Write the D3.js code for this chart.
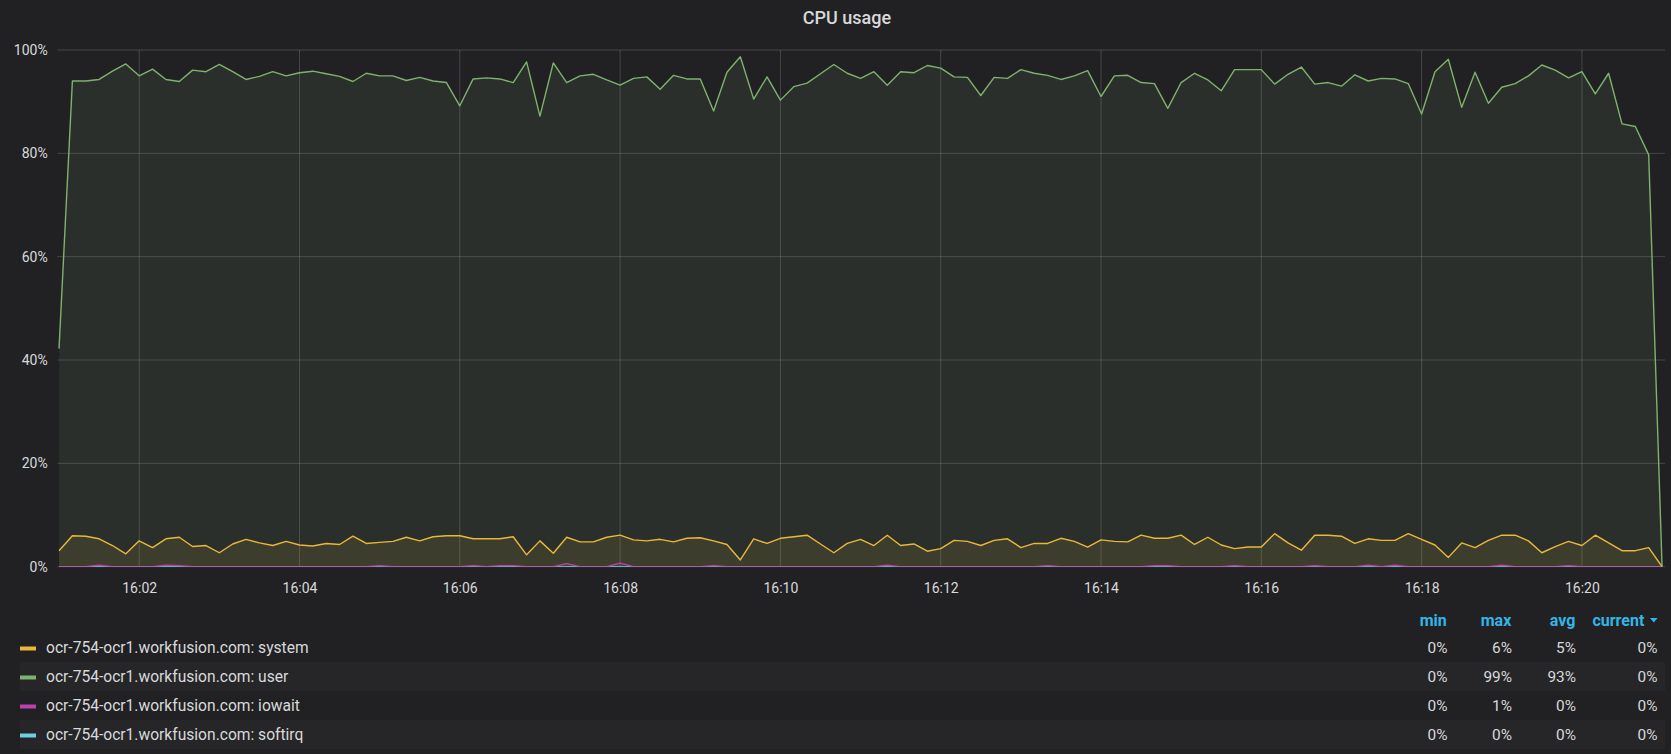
<!DOCTYPE html>
<html>
<head>
<meta charset="utf-8">
<script src="https://cdn.jsdelivr.net/npm/d3@7"></script>
<style>
  body { margin: 0; background: #212124; }
  svg text { font-family: Roboto, "Noto Sans", sans-serif; }
</style>
</head>
<body>
<svg id="chart" width="1671" height="754"></svg>
<script>
// 10s samples, 16:01:00 -> 16:21:00
var chartTitle = "CPU usage"
var hostName = "ocr-754-ocr1.workfusion.com"
var seriesNames = ["system", "user", "iowait", "softirq"]
var seriesColors = ["#EAB839", "#7EB26D", "#BA43A9", "#6ED0E0"]
var statNames = ["min", "max", "avg", "current"]
var yTicks = [0, 20, 40, 60, 80, 100]

var systemVals = [3.1, 6.0, 5.9, 5.4, 4.1, 2.5, 5.0, 3.7, 5.4, 5.7,
    3.9, 4.1, 2.7, 4.4, 5.3, 4.6, 4.1, 4.9, 4.2, 4.0,
    4.5, 4.3, 5.9, 4.5, 4.7, 4.9, 5.7, 5.0, 5.8, 6.0,
    6.0, 5.4, 5.4, 5.4, 5.8, 2.3, 5.0, 2.6, 5.7, 4.8,
    4.8, 5.7, 6.1, 5.2, 5.0, 5.3, 4.8, 5.5, 5.6, 5.0,
    4.3, 1.3, 5.4, 4.5, 5.5, 5.8, 6.1, 4.4, 2.7, 4.5,
    5.3, 4.1, 6.1, 4.1, 4.4, 3.0, 3.5, 5.1, 4.9, 4.1,
    5.1, 5.4, 3.7, 4.5, 4.5, 5.5, 4.9, 3.8, 5.2, 4.9,
    4.8, 6.1, 5.5, 5.5, 6.1, 4.3, 5.7, 4.2, 3.5, 3.8,
    3.8, 6.4, 4.6, 3.2, 6.1, 6.1, 5.9, 4.5, 5.4, 5.1,
    5.1, 6.4, 5.3, 4.2, 1.8, 4.6, 3.7, 5.1, 6.1, 6.1,
    5.0, 2.7, 3.9, 4.9, 4.1, 6.1, 4.6, 3.1, 3.1, 3.7,
    0]

var userVals = [42.2, 94.0, 94.0, 94.3, 95.9, 97.3, 95.0, 96.3, 94.3, 93.9,
    96.1, 95.8, 97.2, 95.8, 94.3, 94.9, 95.8, 95.0, 95.6, 95.9,
    95.4, 94.9, 93.9, 95.5, 95.0, 95.0, 94.1, 94.7, 94.0, 93.7,
    89.2, 94.4, 94.6, 94.4, 93.7, 97.7, 87.2, 97.5, 93.7, 95.0,
    95.3, 94.2, 93.2, 94.5, 94.8, 92.4, 95.1, 94.4, 94.4, 88.2,
    95.7, 98.7, 90.5, 94.8, 90.3, 92.9, 93.6, 95.4, 97.2, 95.5,
    94.5, 95.8, 93.2, 95.8, 95.6, 97.0, 96.5, 94.8, 94.7, 91.2,
    94.7, 94.5, 96.2, 95.5, 95.1, 94.3, 95.0, 96.0, 91.0, 95.0,
    95.1, 93.7, 93.5, 88.7, 93.7, 95.5, 94.2, 92.1, 96.2, 96.2,
    96.2, 93.4, 95.3, 96.7, 93.4, 93.7, 93.0, 95.2, 94.0, 94.5,
    94.4, 93.5, 87.6, 95.8, 98.2, 88.9, 95.7, 89.7, 92.8, 93.5,
    95.0, 97.1, 96.1, 94.6, 95.8, 91.5, 95.5, 85.7, 85.2, 79.7,
    0]

var iowaitVals = [0, 0, 0, 0.3, 0, 0, 0, 0, 0.3, 0.2,
    0, 0, 0, 0, 0, 0, 0, 0, 0, 0,
    0, 0, 0, 0, 0.2, 0, 0, 0, 0, 0,
    0, 0.2, 0, 0.2, 0.2, 0, 0, 0, 0.6, 0,
    0, 0, 0.7, 0, 0, 0, 0, 0, 0, 0.2,
    0, 0, 0, 0, 0, 0, 0, 0, 0, 0,
    0, 0, 0.3, 0, 0, 0, 0, 0, 0, 0,
    0, 0, 0, 0, 0.2, 0, 0, 0, 0, 0,
    0, 0, 0.2, 0.2, 0, 0, 0, 0, 0.2, 0,
    0, 0, 0, 0, 0.2, 0, 0, 0, 0.3, 0,
    0.3, 0, 0, 0, 0, 0, 0, 0, 0.3, 0,
    0, 0, 0, 0.2, 0, 0, 0, 0, 0, 0,
    0]

var softirqVals = [0, 0, 0, 0, 0, 0, 0, 0, 0, 0,
    0, 0, 0, 0, 0, 0, 0, 0, 0, 0,
    0, 0, 0, 0, 0, 0, 0, 0, 0, 0,
    0, 0, 0, 0, 0, 0, 0, 0, 0, 0,
    0, 0, 0, 0, 0, 0, 0, 0, 0, 0,
    0, 0, 0, 0, 0, 0, 0, 0, 0, 0,
    0, 0, 0, 0, 0, 0, 0, 0, 0, 0,
    0, 0, 0, 0, 0, 0, 0, 0, 0, 0,
    0, 0, 0, 0, 0, 0, 0, 0, 0, 0,
    0, 0, 0, 0, 0, 0, 0, 0, 0, 0,
    0, 0, 0, 0, 0, 0, 0, 0, 0, 0,
    0, 0, 0, 0, 0, 0, 0, 0, 0, 0,
    0]

var startTime = new Date(2019, 0, 1, 16, 1, 0)
var times = systemVals.map((v, i) => new Date(startTime.getTime() + i * 10000))

var allSeries = [systemVals, userVals, iowaitVals, softirqVals].map((vals, k) => ({
    name: hostName + ": " + seriesNames[k],
    color: seriesColors[k],
    values: vals.map((v, i) => ({t: times[i], v: v}))
}))

var W = 1671, H = 754
var plot = {left: 57.3, right: 1665, top: 50, bottom: 566.7}
var textColor = "#d8d9da"
var gridColor = "rgba(200,200,205,0.22)"

var svg = d3.select("#chart")
svg.append("rect").attr("width", W).attr("height", H).attr("fill", "#212124")

svg.append("text")
    .attr("x", 847).attr("y", 17.5).attr("dy", "0.35em")
    .attr("text-anchor", "middle")
    .attr("fill", textColor)
    .attr("font-size", "18px")
    .attr("font-weight", 500)
    .text(chartTitle)

var x = d3.scaleTime()
    .domain([new Date(2019, 0, 1, 16, 0, 58, 700), new Date(2019, 0, 1, 16, 21, 2, 200)])
    .range([plot.left, plot.right])

var y = d3.scaleLinear()
    .domain([0, 100])
    .range([plot.bottom, plot.top])

var xTicks = x.ticks(d3.timeMinute.every(2))

// grid
var grid = svg.append("g")
grid.selectAll("line.h")
    .data(yTicks)
    .enter().append("line")
    .attr("x1", plot.left).attr("x2", plot.right)
    .attr("y1", d => y(d)).attr("y2", d => y(d))
    .attr("stroke", gridColor)
grid.selectAll("line.v")
    .data(xTicks)
    .enter().append("line")
    .attr("x1", d => x(d)).attr("x2", d => x(d))
    .attr("y1", plot.top).attr("y2", plot.bottom)
    .attr("stroke", gridColor)

svg.append("clipPath").attr("id", "plotclip")
    .append("rect")
    .attr("x", plot.left).attr("y", plot.top - 2)
    .attr("width", plot.right - plot.left).attr("height", plot.bottom - plot.top + 2)

var area = d3.area()
    .x(d => x(d.t))
    .y0(y(0))
    .y1(d => y(d.v))

var line = d3.line()
    .x(d => x(d.t))
    .y(d => y(d.v))

var series = svg.append("g").attr("clip-path", "url(#plotclip)")
allSeries.forEach(s => {
    series.append("path")
        .attr("d", area(s.values))
        .attr("fill", s.color)
        .attr("fill-opacity", 0.1)
})
allSeries.slice().reverse().forEach(s => {
    series.append("path")
        .attr("d", line(s.values))
        .attr("fill", "none")
        .attr("stroke", s.color)
        .attr("stroke-width", 1.4)
        .attr("stroke-linejoin", "round")
})

// axes
var xAxis = d3.axisBottom(x)
    .tickValues(xTicks)
    .tickFormat(d3.timeFormat("%H:%M"))
    .tickSize(0)
    .tickPadding(16)

var xAxisGroup = svg.append("g")
    .attr("transform", `translate(0,${plot.bottom})`)
    .call(xAxis)
xAxisGroup.select(".domain").remove()
xAxisGroup.selectAll("text").attr("fill", textColor).attr("font-size", "14px")

var yAxis = d3.axisLeft(y)
    .tickValues(yTicks)
    .tickFormat(d => d + "%")
    .tickSize(0)
    .tickPadding(9.6)

var yAxisGroup = svg.append("g")
    .attr("transform", `translate(${plot.left},0)`)
    .call(yAxis)
yAxisGroup.select(".domain").remove()
yAxisGroup.selectAll("text").attr("fill", textColor).attr("font-size", "14px")

// legend table
var statX = [1447.5, 1512, 1576, 1657.5]
var headerX = [1446.7, 1511.3, 1575.3, 1644.3]
var rowTop = 633, rowH = 29

var legend = svg.append("g")
legend.selectAll("text.head")
    .data(statNames)
    .enter().append("text")
    .attr("x", (d, i) => headerX[i])
    .attr("y", 620).attr("dy", "0.35em")
    .attr("text-anchor", "end")
    .attr("fill", "#33b5e5")
    .attr("font-size", "16px")
    .attr("font-weight", 700)
    .text(d => d)
legend.append("path")
    .attr("d", "M1650,618 L1657.5,618 L1653.75,622.5 Z")
    .attr("fill", "#33b5e5")

function fmtPct(v) { return Math.round(v) + "%" }

var rows = legend.selectAll("g.row")
    .data(allSeries)
    .enter().append("g")
    .attr("class", "row")
    .attr("transform", (d, i) => `translate(0,${rowTop + i * rowH})`)

rows.append("rect")
    .attr("x", 20).attr("width", 1645).attr("height", rowH)
    .attr("fill", (d, i) => i % 2 ? "#262629" : "none")
rows.append("rect")
    .attr("x", 20).attr("y", rowH / 2 - 1).attr("width", 16).attr("height", 4)
    .attr("fill", d => d.color)
rows.append("text")
    .attr("x", 46).attr("y", rowH / 2).attr("dy", "0.35em")
    .attr("fill", textColor)
    .attr("font-size", "15.6px")
    .text(d => d.name)
rows.each(function (s) {
    var vals = s.values.map(p => p.v)
    var stats = [d3.min(vals), d3.max(vals), d3.mean(vals), vals[vals.length - 1]]
    d3.select(this).selectAll("text.stat")
        .data(stats)
        .enter().append("text")
        .attr("x", (d, i) => statX[i])
        .attr("y", rowH / 2).attr("dy", "0.35em")
        .attr("text-anchor", "end")
        .attr("fill", textColor)
        .attr("font-size", "15.4px")
        .text(fmtPct)
})
</script>
</body>
</html>
